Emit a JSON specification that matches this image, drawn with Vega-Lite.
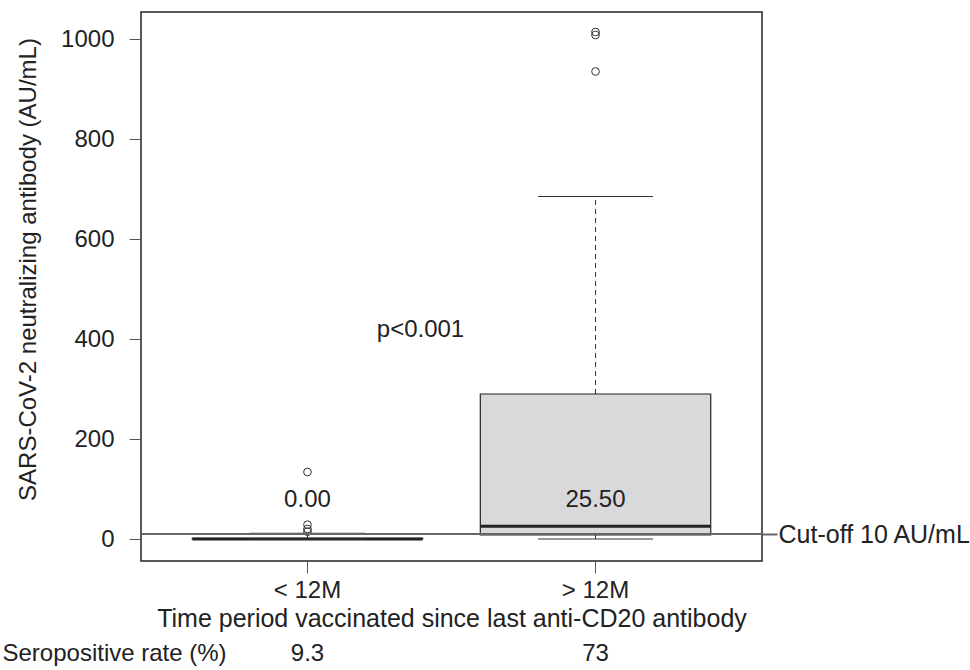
{
  "$schema": "https://vega.github.io/schema/vega-lite/v6.json",
  "width": 621,
  "height": 549,
  "autosize": {"type": "none"},
  "padding": {"left": 141, "top": 12, "right": 208, "bottom": 109},
  "background": "white",
  "config": {
    "font": "Liberation Sans",
    "view": {"stroke": "#222", "strokeWidth": 1.5},
    "axis": {"grid": false, "labelFont": "Liberation Sans", "titleFont": "Liberation Sans", "titleFontWeight": "normal", "labelColor": "#222", "titleColor": "#222", "labelFontSize": 24, "titleFontSize": 24, "labelLimit": 400}
  },
  "datasets": {
    "boxes": [
      {"group": "< 12M", "lower": 0, "q1": 0, "median": 0, "q3": 1.5, "upper": 11.5, "label": "0.00"},
      {"group": "> 12M", "lower": 0, "q1": 8, "median": 25.5, "q3": 290, "upper": 685, "label": "25.50"}
    ],
    "outliers": [
      {"group": "< 12M", "value": 134},
      {"group": "< 12M", "value": 28.6},
      {"group": "< 12M", "value": 20},
      {"group": "< 12M", "value": 14.6},
      {"group": "> 12M", "value": 1014},
      {"group": "> 12M", "value": 1008},
      {"group": "> 12M", "value": 935}
    ],
    "notes": [{"group": "< 12M", "text": "p<0.001"}],
    "cutoff": [{"value": 10}]
  },
  "resolve": {"axis": {"x": "independent", "y": "independent"}},
  "layer": [
    {
      "data": {"name": "boxes"},
      "mark": {"type": "rule", "strokeDash": [5, 4], "stroke": "#333", "strokeWidth": 1},
      "encoding": {
        "x": {"field": "group", "type": "nominal", "scale": {"paddingInner": 0.2, "paddingOuter": 0.178}, "axis": null},
        "y": {"field": "q3", "type": "quantitative", "scale": {"domain": [-44, 1054], "nice": false, "zero": false}, "axis": null},
        "y2": {"field": "upper"}
      }
    },
    {
      "data": {"name": "boxes"},
      "mark": {"type": "rule", "strokeDash": [5, 4], "stroke": "#333", "strokeWidth": 1},
      "encoding": {
        "x": {"field": "group", "type": "nominal", "scale": {"paddingInner": 0.2, "paddingOuter": 0.178}, "axis": null},
        "y": {"field": "lower", "type": "quantitative", "scale": {"domain": [-44, 1054], "nice": false, "zero": false}, "axis": null},
        "y2": {"field": "q1"}
      }
    },
    {
      "data": {"name": "boxes"},
      "mark": {"type": "bar", "fill": "#d9d9db", "stroke": "#222", "strokeWidth": 1.2},
      "encoding": {
        "x": {"field": "group", "type": "nominal", "scale": {"paddingInner": 0.2, "paddingOuter": 0.178},
          "axis": {"orient": "bottom", "title": "Time period vaccinated since last anti-CD20 antibody", "titleFontSize": 25, "labelAngle": 0, "tickSize": 12, "tickColor": "#555", "domain": false, "labelPadding": 5, "titlePadding": 4}},
        "y": {"field": "q1", "type": "quantitative", "scale": {"domain": [-44, 1054], "nice": false, "zero": false},
          "axis": {"orient": "left", "title": "SARS-CoV-2 neutralizing antibody (AU/mL)", "values": [0, 200, 400, 600, 800, 1000], "format": "d", "tickSize": 12, "tickColor": "#555", "labelPadding": 15, "domain": false, "titleY": 257, "titlePadding": 20}},
        "y2": {"field": "q3"}
      }
    },
    {
      "data": {"name": "boxes"},
      "mark": {"type": "tick", "size": 230, "thickness": 3, "color": "#222", "opacity": 1},
      "encoding": {
        "x": {"field": "group", "type": "nominal", "scale": {"paddingInner": 0.2, "paddingOuter": 0.178}, "axis": null},
        "y": {"field": "median", "type": "quantitative", "scale": {"domain": [-44, 1054], "nice": false, "zero": false}, "axis": null}
      }
    },
    {
      "data": {"name": "boxes"},
      "mark": {"type": "tick", "size": 115, "thickness": 1, "color": "#333", "opacity": 1},
      "encoding": {
        "x": {"field": "group", "type": "nominal", "scale": {"paddingInner": 0.2, "paddingOuter": 0.178}, "axis": null},
        "y": {"field": "upper", "type": "quantitative", "scale": {"domain": [-44, 1054], "nice": false, "zero": false}, "axis": null}
      }
    },
    {
      "data": {"name": "boxes"},
      "mark": {"type": "tick", "size": 115, "thickness": 1, "color": "#333", "opacity": 1},
      "encoding": {
        "x": {"field": "group", "type": "nominal", "scale": {"paddingInner": 0.2, "paddingOuter": 0.178}, "axis": null},
        "y": {"field": "lower", "type": "quantitative", "scale": {"domain": [-44, 1054], "nice": false, "zero": false}, "axis": null}
      }
    },
    {
      "data": {"name": "outliers"},
      "mark": {"type": "point", "filled": false, "size": 60, "stroke": "#333", "strokeWidth": 1, "opacity": 1},
      "encoding": {
        "x": {"field": "group", "type": "nominal", "scale": {"paddingInner": 0.2, "paddingOuter": 0.178}, "axis": null},
        "y": {"field": "value", "type": "quantitative", "scale": {"domain": [-44, 1054], "nice": false, "zero": false}, "axis": null}
      }
    },
    {
      "data": {"name": "cutoff"},
      "mark": {"type": "rule", "stroke": "#666", "strokeWidth": 2},
      "encoding": {
        "y": {"field": "value", "type": "quantitative", "scale": {"domain": [-44, 1054], "nice": false, "zero": false},
          "axis": {"orient": "right", "values": [10], "labelExpr": "'Cut-off 10 AU/mL'", "labelFontSize": 25, "labelLimit": 400, "tickSize": 15, "tickColor": "#666", "tickWidth": 2, "labelPadding": 1, "domain": false, "title": null}}
      }
    },
    {
      "data": {"name": "boxes"},
      "mark": {"type": "text", "fontSize": 24, "color": "#222", "baseline": "middle"},
      "encoding": {
        "x": {"field": "group", "type": "nominal", "scale": {"paddingInner": 0.2, "paddingOuter": 0.178},
          "axis": {"orient": "bottom", "title": "Seropositive rate (%)", "labelExpr": "datum.value == '< 12M' ? '9.3' : '73'", "labelAngle": 0, "ticks": false, "tickSize": 0, "domain": false, "labelPadding": 80, "titleX": -139, "titleY": 80, "titleAlign": "left", "titleAnchor": "start", "titleBaseline": "top", "titleAngle": 0}},
        "y": {"datum": 78, "type": "quantitative", "scale": {"domain": [-44, 1054], "nice": false, "zero": false}, "axis": null},
        "text": {"field": "label"}
      }
    },
    {
      "data": {"name": "notes"},
      "mark": {"type": "text", "fontSize": 24, "color": "#222", "baseline": "middle", "dx": 113},
      "encoding": {
        "x": {"field": "group", "type": "nominal", "scale": {"paddingInner": 0.2, "paddingOuter": 0.178}, "axis": null},
        "y": {"datum": 418, "type": "quantitative", "scale": {"domain": [-44, 1054], "nice": false, "zero": false}, "axis": null},
        "text": {"field": "text"}
      }
    }
  ]
}
